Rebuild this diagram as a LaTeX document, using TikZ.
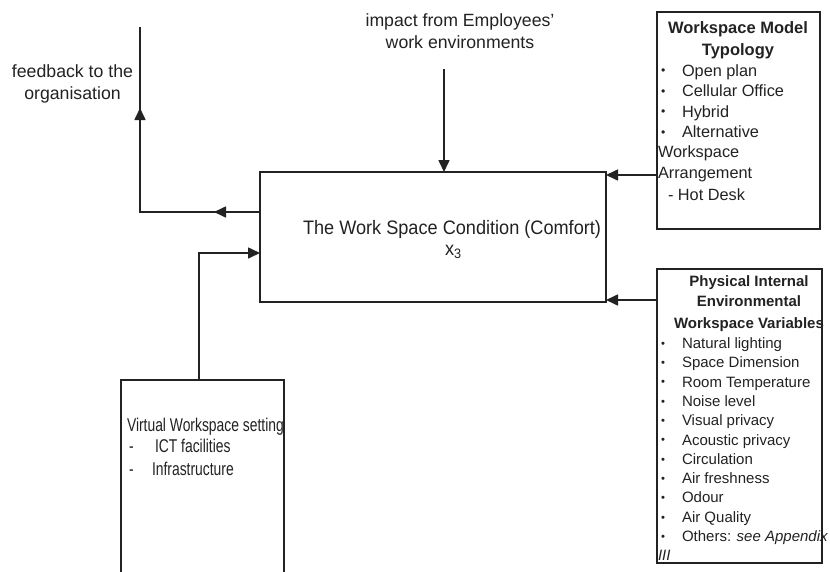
\documentclass[tikz,border=0pt]{standalone}
\usepackage{fontspec}
\setmainfont{Liberation Sans}
\newfontfamily\mainnarrow[FakeStretch=0.93]{Liberation Sans}
\newfontfamily\virtnarrow[FakeStretch=0.75]{Liberation Sans}
\usetikzlibrary{arrows.meta,decorations.markings}
\definecolor{ink}{HTML}{222222}
\newcommand\bul{\makebox[0pt][r]{\makebox[21pt][l]{\raisebox{0.08em}{\scalebox{0.75}{•}}}}}
\tikzset{
  box/.style={draw=ink, line width=1.6pt, inner sep=0pt, outer sep=0pt, anchor=north west},
  conn/.style={line width=1.6pt, draw=ink},
  tri/.style={-{Triangle[length=12pt,width=11pt]}},
  lbl/.style={inner sep=0pt, outer sep=0pt, text=ink},
  bigfont/.style={font=\fontsize{17.7pt}{22pt}\selectfont},
  mainfont/.style={font=\mainnarrow\fontsize{19.5pt}{23pt}\selectfont},
  typfont/.style={font=\fontsize{16.3pt}{20pt}\selectfont},
  typtitle/.style={font=\bfseries\fontsize{16.5pt}{20pt}\selectfont},
  phyfont/.style={font=\fontsize{15pt}{19pt}\selectfont},
  phytitle/.style={font=\bfseries\fontsize{15pt}{19pt}\selectfont},
  virfont/.style={font=\virtnarrow\fontsize{18.5pt}{22pt}\selectfont},
}
\begin{document}
\begin{tikzpicture}[x=1pt,y=-1pt]
\useasboundingbox (0,0) rectangle (830,571);

% boxes
\node[box, minimum width=346pt, minimum height=130pt] (main) at (260,172) {};
\node[box, minimum width=163pt, minimum height=217pt] (typ) at (657,12) {};
\node[box, minimum width=165pt, minimum height=294pt] (phy) at (657,269) {};
\node[box, minimum width=163pt, minimum height=230pt] (vir) at (121,380) {};

% connectors
\coordinate (fbtop) at (140,27);
\coordinate (fbstart) at ([yshift=25pt]main.west);
\draw[conn, postaction={decorate}, decoration={markings,
   mark=at position 46pt with {\arrow{Triangle[length=12pt,width=11pt]}},
   mark=at position 224pt with {\arrow{Triangle[length=12pt,width=11pt]}}}]
   (fbstart) -| (fbtop);

\coordinate (imp) at (444,69);
\draw[conn, tri] (imp) -- (imp |- main.north);

\coordinate (mtr) at ([yshift=-3pt]main.north east);
\draw[conn, tri] (typ.west |- mtr) -- (mtr);

\coordinate (mbr) at ([yshift=2pt]main.south east);
\draw[conn, tri] (phy.west |- mbr) -- (mbr);

\coordinate (min) at ([yshift=-16pt]main.west);
\coordinate (vtop) at ([xshift=-3.5pt]vir.north);
\draw[conn, tri] (vtop) |- (min);

% free texts
\node[lbl, bigfont, anchor=base] (fb1) at (72.5,77.3) {feedback to the};
\node[lbl, bigfont, anchor=base] (fb2) at (72.5,99.3) {organisation};
\node[lbl, bigfont, anchor=base] (im1) at (460,26.7) {impact from Employees’};
\node[lbl, bigfont, anchor=base] (im2) at (460,48.3) {work environments};

% main box text
\node[lbl, mainfont, anchor=base] (mtxt) at (452,234) {The Work Space Condition (Comfort)};
\node[lbl, mainfont, anchor=base west] (xsub) at (445,255) {x\textsubscript{3}};

% typology box
\node[lbl, typtitle, anchor=base] (tt1) at (738,33.3) {Workspace Model};
\node[lbl, typtitle, anchor=base] (tt2) at (738,55) {Typology};
\foreach \t [count=\i from 0] in {Open plan, Cellular Office, Hybrid, Alternative}
  \node[lbl, typfont, anchor=base west] (tb\i) at (682,{76+20.5*\i}) {\bul\t};
\node[lbl, typfont, anchor=base west] (tw) at (658,157.7) {Workspace};
\node[lbl, typfont, anchor=base west] (ta) at (658,178.3) {Arrangement};
\node[lbl, typfont, anchor=base west] (th) at (668,200) {- Hot Desk};

% physical box
\node[lbl, phytitle, anchor=base] (pt1) at (749,286.7) {Physical Internal};
\node[lbl, phytitle, anchor=base] (pt2) at (749,306.7) {Environmental};
\node[lbl, phytitle, anchor=base] (pt3) at (749,328.3) {Workspace Variables};
\foreach \t [count=\i from 0] in {Natural lighting, Space Dimension, Room Temperature,
    Noise level, Visual privacy, Acoustic privacy, Circulation, Air freshness,
    Odour, Air Quality, {Others: \textit{see Appendix}}}
  \node[lbl, phyfont, anchor=base west] (pb\i) at (682,{348.5+19.3*\i}) {\bul\t};
\node[lbl, phyfont, anchor=base west] (p3) at (658,560.8) {\textit{III}};

% virtual box
\node[lbl, virfont, anchor=base west] (v1) at (127,431) {Virtual Workspace setting};
\node[lbl, virfont, anchor=base west] (v2d) at (129,452.3) {-};
\node[lbl, virfont, anchor=base west] (v2) at (155,452.3) {ICT facilities};
\node[lbl, virfont, anchor=base west] (v3d) at (129,475.7) {-};
\node[lbl, virfont, anchor=base west] (v3) at (152,475.7) {Infrastructure};
\end{tikzpicture}
\end{document}
